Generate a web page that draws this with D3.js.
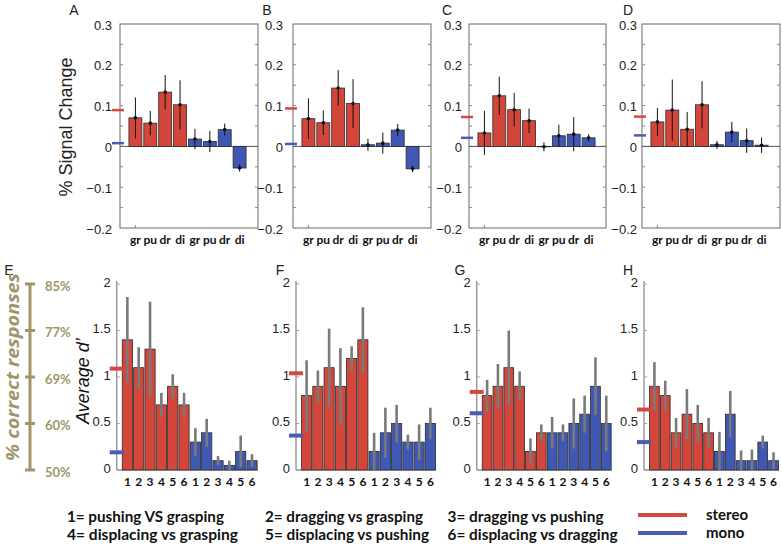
<!DOCTYPE html>
<html><head><meta charset="utf-8">
<script src="https://cdn.jsdelivr.net/npm/d3@7"></script>
<style>body{margin:0;background:#fff}svg{display:block}</style>
</head><body>
<svg id="chart" width="782" height="545"></svg>
<script>
// ---------- DATA ----------
const topCategories = ["gr","pu","dr","di","gr","pu","dr","di"];
const topConditions = ["stereo","stereo","stereo","stereo","mono","mono","mono","mono"];
const topPanelNames = ["A","B","C","D"];
const topValuesA = [0.070,0.057,0.133,0.102,0.018,0.012,0.041,-0.053];
const topErrorsA = [0.050,0.030,0.042,0.060,0.025,0.026,0.015,0.009];
const topValuesB = [0.068,0.058,0.143,0.105,0.004,0.008,0.040,-0.055];
const topErrorsB = [0.050,0.030,0.044,0.060,0.015,0.026,0.015,0.008];
const topValuesC = [0.033,0.124,0.090,0.063,-0.001,0.026,0.030,0.021];
const topErrorsC = [0.054,0.047,0.041,0.030,0.011,0.027,0.042,0.009];
const topValuesD = [0.060,0.089,0.042,0.102,0.004,0.035,0.014,0.003];
const topErrorsD = [0.034,0.075,0.042,0.058,0.010,0.025,0.030,0.019];
const topStereoRef = [0.089,0.093,0.072,0.073];
const topMonoRef = [0.008,0.006,0.021,0.027];
const topTicks = [-0.2,-0.1,0,0.1,0.2,0.3];

const bottomCategories = ["1","2","3","4","5","6","1","2","3","4","5","6"];
const bottomConditions = ["stereo","stereo","stereo","stereo","stereo","stereo","mono","mono","mono","mono","mono","mono"];
const bottomPanelNames = ["E","F","G","H"];
const bottomValuesE = [1.4,1.1,1.3,0.7,0.9,0.7,0.3,0.4,0.1,0.05,0.2,0.1];
const bottomErrorsE = [0.46,0.22,0.51,0.13,0.13,0.13,0.15,0.15,0.05,0.05,0.17,0.07];
const bottomValuesF = [0.8,0.9,1.1,0.9,1.2,1.4,0.2,0.4,0.5,0.3,0.3,0.5];
const bottomErrorsF = [0.38,0.17,0.42,0.41,0.13,0.35,0.2,0.27,0.2,0.08,0.19,0.17];
const bottomValuesG = [0.8,0.9,1.1,0.9,0.2,0.4,0.4,0.4,0.5,0.6,0.9,0.5];
const bottomErrorsG = [0.17,0.24,0.4,0.16,0.14,0.09,0.17,0.09,0.27,0.2,0.31,0.3];
const bottomValuesH = [0.9,0.8,0.4,0.6,0.5,0.4,0.2,0.6,0.1,0.1,0.3,0.1];
const bottomErrorsH = [0.26,0.16,0.16,0.27,0.2,0.16,0.21,0.25,0.11,0.12,0.07,0.09];
const bottomStereoRef = [1.09,1.04,0.84,0.65];
const bottomMonoRef = [0.19,0.37,0.61,0.30];
const bottomTicks = [0,0.5,1,1.5,2];
const bottomTickLabels = ["0","0.5","1","1.5","2"];
const percentLabels = ["50%","60%","69%","77%","85%"];
const percentAtDprime = [0,0.5,1,1.5,2];

const legendLines = [
  ["1= pushing VS grasping","2= dragging vs grasping","3= dragging vs pushing"],
  ["4= displacing vs grasping","5= displacing vs pushing","6= displacing vs dragging"]
];
const legendSeries = ["stereo","mono"];

// ---------- STYLE ----------
const color = {stereo:"#d5463a", mono:"#3f58b3"};
const legendColor = {stereo:"#d24b42", mono:"#4b5cb2"};
const olive = "#a0956a";
const svg = d3.select("#chart");
const sans = "'Liberation Sans', Arial, sans-serif";
const boldFont = "Lato, 'Open Sans', sans-serif";

// ---------- TOP PANELS ----------
const topData = [
  [topValuesA, topErrorsA],[topValuesB, topErrorsB],
  [topValuesC, topErrorsC],[topValuesD, topErrorsD]
];
const topBox = [[120,258],[293,431],[469,606],[642,780]];
const topLetterX = [74,267,447,628];
const topTickRight = [112,283,462,637];
const yTop = d3.scaleLinear().domain([-0.2,0.3]).range([228,24]);

topData.forEach(([vals, errs], p) => {
  const [x0,x1] = topBox[p];
  const g = svg.append("g");
  const x = d3.scaleBand().domain(d3.range(8)).range([x0+7, x0+128]).padding(0.13);
  g.append("rect").attr("x",x0).attr("y",yTop(0.3)).attr("width",x1-x0)
    .attr("height",yTop(-0.2)-yTop(0.3)).attr("fill","none").attr("stroke","#6a6a6a").attr("stroke-width",1);
  const minor = d3.range(-0.15,0.3,0.05);
  g.selectAll(".tl").data(minor).join("line")
    .attr("x1",x0).attr("x2",x0+3).attr("y1",d=>yTop(d)).attr("y2",d=>yTop(d)).attr("stroke","#888");
  g.selectAll(".tr").data(minor).join("line")
    .attr("x1",x1).attr("x2",x1-3).attr("y1",d=>yTop(d)).attr("y2",d=>yTop(d)).attr("stroke","#888");
  g.append("line").attr("x1",x(0)+x.bandwidth()/2).attr("x2",x(0)+x.bandwidth()/2)
    .attr("y1",yTop(-0.2)).attr("y2",yTop(-0.2)-3).attr("stroke","#888");
  g.append("line").attr("x1",x0).attr("x2",x1).attr("y1",yTop(0)).attr("y2",yTop(0)).attr("stroke","#555");
  g.selectAll(".tlab").data(topTicks).join("text")
    .attr("x",topTickRight[p]).attr("y",d=>yTop(d)+1).attr("dy","0.35em").attr("text-anchor","end")
    .attr("font-family",sans).attr("font-size",13).attr("fill","#222").text(d=>d===0?"0":d3.format(".1f")(d));
  g.selectAll(".bar").data(vals).join("rect")
    .attr("x",(d,i)=>x(i)).attr("width",x.bandwidth())
    .attr("y",d=>yTop(Math.max(0,d))).attr("height",d=>Math.abs(yTop(d)-yTop(0)))
    .attr("fill",(d,i)=>color[topConditions[i]]).attr("stroke","#2a2a2a").attr("stroke-width",0.8);
  g.selectAll(".err").data(vals).join("line")
    .attr("x1",(d,i)=>x(i)+x.bandwidth()/2).attr("x2",(d,i)=>x(i)+x.bandwidth()/2)
    .attr("y1",(d,i)=>yTop(d+errs[i])).attr("y2",(d,i)=>yTop(d-errs[i]))
    .attr("stroke","#111").attr("stroke-width",1);
  g.selectAll(".dot").data(vals).join("circle")
    .attr("cx",(d,i)=>x(i)+x.bandwidth()/2).attr("cy",d=>yTop(d)).attr("r",1.8).attr("fill","#111");
  g.selectAll(".cat").data(topCategories).join("text")
    .attr("x",(d,i)=>x(i)+x.bandwidth()/2).attr("y",244).attr("text-anchor","middle")
    .attr("font-family",boldFont).attr("font-weight","bold").attr("font-size",12).attr("fill","#111").text(d=>d);
  [["stereo",topStereoRef[p]],["mono",topMonoRef[p]]].forEach(([k,v])=>{
    g.append("line").attr("x1",x0-8).attr("x2",x0+4).attr("y1",yTop(v)).attr("y2",yTop(v))
      .attr("stroke",legendColor[k]).attr("stroke-width",2.5);
  });
  g.append("text").attr("x",topLetterX[p]).attr("y",15).attr("text-anchor","middle")
    .attr("font-family",sans).attr("font-size",14).attr("fill","#222").text(topPanelNames[p]);
});

svg.append("text").attr("transform","translate(72,127) rotate(-90)").attr("text-anchor","middle")
  .attr("font-family",sans).attr("font-size",18).attr("fill","#222").text("% Signal Change");

// ---------- BOTTOM PANELS ----------
const bottomData = [
  [bottomValuesE,bottomErrorsE],[bottomValuesF,bottomErrorsF],
  [bottomValuesG,bottomErrorsG],[bottomValuesH,bottomErrorsH]
];
const bottomAxisX = [116.7,296,476.7,644];
const bottomWidth = [141,140,135,135];
const bottomLetterX = [9,280,460,628];
const yBot = d3.scaleLinear().domain([0,2]).range([470,284]);

bottomData.forEach(([vals, errs], p) => {
  const ax = bottomAxisX[p];
  const g = svg.append("g");
  const x = d3.scaleBand().domain(d3.range(12)).range([ax+5, ax+bottomWidth[p]]).paddingInner(0.1).paddingOuter(0.05);
  g.append("line").attr("x1",ax).attr("x2",ax).attr("y1",281).attr("y2",yBot(0)).attr("stroke","#9a9a9a").attr("stroke-width",1.5);
  g.append("line").attr("x1",ax).attr("x2",ax+bottomWidth[p]).attr("y1",yBot(0)).attr("y2",yBot(0)).attr("stroke","#9a9a9a").attr("stroke-width",1.5);
  g.selectAll(".tk").data(bottomTicks).join("line")
    .attr("x1",ax).attr("x2",ax+3).attr("y1",d=>yBot(d)).attr("y2",d=>yBot(d)).attr("stroke","#9a9a9a");
  g.selectAll(".tlab").data(bottomTicks).join("text")
    .attr("x",ax-6).attr("y",d=>yBot(d)-2).attr("dy","0.35em").attr("text-anchor","end")
    .attr("font-family",sans).attr("font-size",13).attr("fill","#222").text((d,i)=>bottomTickLabels[i]);
  g.selectAll(".bar").data(vals).join("rect")
    .attr("x",(d,i)=>x(i)).attr("width",x.bandwidth())
    .attr("y",d=>yBot(d)).attr("height",d=>yBot(0)-yBot(d))
    .attr("fill",(d,i)=>color[bottomConditions[i]]).attr("stroke","#2a2a2a").attr("stroke-width",0.8);
  g.selectAll(".err").data(vals).join("line")
    .attr("x1",(d,i)=>x(i)+x.bandwidth()/2).attr("x2",(d,i)=>x(i)+x.bandwidth()/2)
    .attr("y1",(d,i)=>yBot(d+errs[i])).attr("y2",(d,i)=>yBot(Math.max(0,d-errs[i])))
    .attr("stroke","#7a7a7a").attr("stroke-width",2.6);
  g.selectAll(".cat").data(bottomCategories).join("text")
    .attr("x",(d,i)=>x(i)+x.bandwidth()/2).attr("y",486).attr("text-anchor","middle")
    .attr("font-family",boldFont).attr("font-weight","bold").attr("font-size",12).attr("fill","#111").text(d=>d);
  [["stereo",bottomStereoRef[p]],["mono",bottomMonoRef[p]]].forEach(([k,v])=>{
    g.append("line").attr("x1",ax-7).attr("x2",ax+7).attr("y1",yBot(v)).attr("y2",yBot(v))
      .attr("stroke",legendColor[k]).attr("stroke-width",4);
  });
  g.append("text").attr("x",bottomLetterX[p]).attr("y",275).attr("text-anchor","middle")
    .attr("font-family",sans).attr("font-size",14).attr("fill","#222").text(bottomPanelNames[p]);
});

svg.append("text").attr("transform","translate(89,381) rotate(-90)").attr("text-anchor","middle")
  .attr("font-family",sans).attr("font-style","italic").attr("font-size",18).attr("fill","#111").text("Average d\u2019");

// percent scale
const pg = svg.append("g");
pg.append("line").attr("x1",30).attr("x2",30).attr("y1",yBot(2)).attr("y2",yBot(0)).attr("stroke",olive).attr("stroke-width",3);
pg.selectAll(".pt").data(percentAtDprime).join("line")
  .attr("x1",25).attr("x2",35).attr("y1",d=>yBot(d)).attr("y2",d=>yBot(d)).attr("stroke",olive).attr("stroke-width",3);
pg.selectAll(".pl").data(percentAtDprime).join("text")
  .attr("x",45).attr("y",d=>yBot(d)+2).attr("dy","0.35em")
  .attr("font-family",boldFont).attr("font-weight","bold").attr("font-size",13).attr("fill",olive)
  .text((d,i)=>percentLabels[i]);
svg.append("text").attr("transform","translate(19,367) rotate(-90)").attr("text-anchor","middle")
  .attr("font-family","'Open Sans', sans-serif").attr("font-style","italic").attr("font-weight","bold")
  .attr("font-size",18).attr("fill",olive).attr("textLength",188).attr("lengthAdjust","spacingAndGlyphs")
  .text("% correct responses");

// ---------- LEGEND ----------
const legX = [67,265,447.5];
const legW = [[157,158,156],[171,164,170]];
const legY = [522,540];
legendLines.forEach((row,r)=>{
  row.forEach((t,c)=>{
    svg.append("text").attr("x",legX[c]).attr("y",legY[r])
      .attr("font-family",boldFont).attr("font-weight","bold").attr("font-size",15).attr("fill","#111")
      .attr("textLength",legW[r][c]).attr("lengthAdjust","spacingAndGlyphs").text(t);
  });
});
legendSeries.forEach((k,i)=>{
  const y = [515,533][i];
  svg.append("line").attr("x1",638).attr("x2",687).attr("y1",y).attr("y2",y)
    .attr("stroke",legendColor[k]).attr("stroke-width",4);
  svg.append("text").attr("x",706).attr("y",y+5)
    .attr("font-family",boldFont).attr("font-weight","bold").attr("font-size",15).attr("fill","#111").text(k);
});
</script>
</body></html>
